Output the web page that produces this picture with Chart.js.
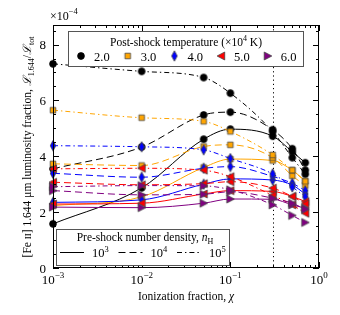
<!DOCTYPE html>
<html>
<head>
<meta charset="utf-8">
<script src="https://cdn.jsdelivr.net/npm/chart.js@4.4.0/dist/chart.umd.min.js"></script>
<style>
  html, body { margin: 0; padding: 0; background: #fff; }
  #wrap { width: 340px; height: 315px; }
</style>
</head>
<body>
<div id="wrap"><canvas id="chart" width="340" height="315"></canvas></div>
<script>
// Ionization fraction (x) shared by every series.
var ionFraction = [0.001, 0.01, 0.05, 0.1, 0.3, 0.5, 0.7];

// Luminosity fraction, units of 1e-4. tXX = post-shock T (x1e4 K), nY = log10 pre-shock density.
var t20_n3 = [1.58, 2.87, 4.61, 4.97, 4.72, 4.16, 3.77];
var t20_n4 = [3.55, 4.33, 5.48, 5.58, 4.95, 4.27, 3.50];
var t20_n5 = [7.31, 7.04, 6.82, 6.26, 4.88, 3.95, 3.36];

var t30_n3 = [2.23, 2.55, 3.60, 3.90, 3.85, 3.50, 3.12];
var t30_n4 = [3.73, 3.67, 4.35, 4.41, 3.95, 3.30, 2.95];
var t30_n5 = [5.65, 5.38, 5.25, 4.89, 4.05, 3.50, 3.10];

var t40_n3 = [2.35, 2.44, 3.00, 3.19, 3.15, 2.97, 2.65];
var t40_n4 = [3.39, 3.25, 3.57, 3.63, 3.28, 3.03, 2.77];
var t40_n5 = [4.38, 4.34, 4.23, 3.92, 3.37, 2.90, 2.55];

var t50_n3 = [2.29, 2.32, 2.65, 2.77, 2.74, 2.56, 2.38];
var t50_n4 = [3.07, 2.98, 3.02, 3.09, 2.86, 2.56, 2.30];
var t50_n5 = [3.55, 3.57, 3.50, 3.27, 2.60, 2.26, 1.96];

var t60_n3 = [2.18, 2.16, 2.32, 2.47, 2.46, 2.26, 2.14];
var t60_n4 = [2.77, 2.62, 2.64, 2.73, 2.50, 2.32, 2.10];
var t60_n5 = [2.91, 2.95, 2.94, 2.80, 2.26, 1.88, 1.63];

var temperatureLabels = ['2.0', '3.0', '4.0', '5.0', '6.0'];
var densityExponents = ['3', '4', '5'];
var xTickExponents = ['\u22123', '\u22122', '\u22121', '0'];
var xTickValues = [0.001, 0.01, 0.1, 1];
var yTickValues = [0, 2, 4, 6, 8];
var chiMark = 0.3;

var seriesByTemp = [
  [t20_n3, t20_n4, t20_n5],
  [t30_n3, t30_n4, t30_n5],
  [t40_n3, t40_n4, t40_n5],
  [t50_n3, t50_n4, t50_n5],
  [t60_n3, t60_n4, t60_n5]
];

// Styles.
var FONT = '"Liberation Serif", "DejaVu Serif", serif';
var tempColors = ['#000000', '#FFA500', '#0000FF', '#FF0000', '#800080'];
var markerKinds = ['circle', 'square', 'thinDiamond', 'triLeft', 'triRight'];
var densityDashes = [[], [7, 4], [5, 3, 1.4, 3]];

/**
 * @description Make a small canvas used as a point style.
 */
function makeMarker(kind, fill) {
  var c = document.createElement('canvas');
  c.width = 12;
  c.height = 12;
  var g = c.getContext('2d');
  g.fillStyle = fill;
  g.strokeStyle = fill === '#000000' ? '#000' : '#444';
  g.lineWidth = 0.8;
  g.beginPath();
  if (kind === 'circle') {
    g.arc(6, 6, 3.4, 0, Math.PI * 2);
  } else if (kind === 'square') {
    g.rect(3.2, 3.2, 5.6, 5.6);
  } else if (kind === 'thinDiamond') {
    g.moveTo(6, 0.8); g.lineTo(8.8, 6); g.lineTo(6, 11.2); g.lineTo(3.2, 6);
    g.closePath();
  } else if (kind === 'triLeft') {
    g.moveTo(2, 6); g.lineTo(9.6, 2); g.lineTo(9.6, 10);
    g.closePath();
  } else {
    g.moveTo(10, 6); g.lineTo(2.4, 2); g.lineTo(2.4, 10);
    g.closePath();
  }
  g.fill();
  g.stroke();
  return c;
}

var markers = markerKinds.map(function (k, i) { return makeMarker(k, tempColors[i]); });

var datasets = [];
seriesByTemp.forEach(function (group, t) {
  group.forEach(function (values, d) {
    datasets.push({
      label: temperatureLabels[t] + ' / 10^' + densityExponents[d],
      data: ionFraction.map(function (x, i) { return { x: x, y: values[i] }; }),
      borderColor: tempColors[t],
      backgroundColor: tempColors[t],
      borderWidth: 1,
      borderDash: densityDashes[d],
      pointStyle: markers[t],
      pointRadius: 4,
      cubicInterpolationMode: 'monotone',
      fill: false,
      clip: false,
      order: 100 - datasets.length
    });
  });
});

/**
 * @description Draw mixed-size text parts on one baseline.
 */
function drawRich(ctx, parts, x, y, align) {
  var total = 0;
  parts.forEach(function (p) {
    ctx.font = (p.italic ? 'italic ' : '') + p.size + 'px ' + FONT;
    p.w = ctx.measureText(p.text).width;
    total += p.w;
  });
  var cx = align === 'center' ? x - total / 2 : align === 'right' ? x - total : x;
  ctx.textAlign = 'left';
  ctx.textBaseline = 'alphabetic';
  parts.forEach(function (p) {
    ctx.font = (p.italic ? 'italic ' : '') + p.size + 'px ' + FONT;
    ctx.fillText(p.text, cx, y + (p.dy || 0));
    cx += p.w;
  });
}

var decorPlugin = {
  id: 'decor',
  beforeDatasetsDraw: function (chart) {
    var ctx = chart.ctx;
    var a = chart.chartArea;
    var x = Math.round(chart.scales.x.getPixelForValue(chiMark)) + 0.5;
    ctx.save();
    ctx.strokeStyle = '#000';
    ctx.lineWidth = 1;
    ctx.setLineDash([1.2, 3]);
    ctx.beginPath();
    ctx.moveTo(x, a.top);
    ctx.lineTo(x, a.bottom);
    ctx.stroke();
    ctx.restore();
  },
  afterDraw: function (chart) {
    var ctx = chart.ctx;
    var a = chart.chartArea;
    var xs = chart.scales.x;
    var ys = chart.scales.y;
    ctx.save();
    ctx.strokeStyle = '#000';
    ctx.fillStyle = '#000';
    ctx.lineWidth = 1;

    // Frame.
    ctx.strokeRect(a.left + 0.5, a.top + 0.5, a.right - a.left - 1, a.bottom - a.top - 1);

    // Inward ticks, x axis (log).
    ctx.beginPath();
    for (var e = -3; e <= 0; e++) {
      for (var k = 1; k <= 9; k++) {
        var v = k * Math.pow(10, e);
        if (v > 1.0000001) break;
        var px = Math.round(xs.getPixelForValue(v)) + 0.5;
        var len = k === 1 ? 6 : 3;
        ctx.moveTo(px, a.bottom); ctx.lineTo(px, a.bottom - len);
        ctx.moveTo(px, a.top); ctx.lineTo(px, a.top + len);
      }
    }
    // Inward ticks, y axis.
    for (var yv = 0; yv <= ys.max + 1e-9; yv += 0.5) {
      var py = Math.round(ys.getPixelForValue(yv)) + 0.5;
      var l2 = yv % 2 === 0 ? 6 : 3;
      ctx.moveTo(a.left, py); ctx.lineTo(a.left + l2, py);
      ctx.moveTo(a.right, py); ctx.lineTo(a.right - l2, py);
    }
    ctx.stroke();

    // Tick labels.
    xTickValues.forEach(function (v, i) {
      drawRich(ctx, [
        { text: '10', size: 13 },
        { text: xTickExponents[i], size: 9, dy: -6 }
      ], xs.getPixelForValue(v), 284, 'center');
    });
    yTickValues.forEach(function (v) {
      drawRich(ctx, [{ text: String(v), size: 13 }], a.left - 7, ys.getPixelForValue(v) + 4.5, 'right');
    });
    drawRich(ctx, [
      { text: '\u00d710', size: 12 },
      { text: '\u22124', size: 8.5, dy: -6 }
    ], 50, 20, 'left');

    // Axis titles.
    drawRich(ctx, [
      { text: 'Ionization fraction, ', size: 11.5 },
      { text: '\u03c7', size: 11.5, italic: true }
    ], 186, 300, 'center');

    ctx.save();
    ctx.translate(31, 147);
    ctx.rotate(-Math.PI / 2);
    drawRich(ctx, [
      { text: '[Fe ', size: 11.5 },
      { text: 'II', size: 9 },
      { text: '] 1.644 \u03bcm luminosity fraction, ', size: 11.5 },
      { text: '\u2112', size: 11.5, italic: true },
      { text: '1.644', size: 8, dy: 2.5 },
      { text: '/', size: 11.5 },
      { text: '\u2112', size: 11.5, italic: true },
      { text: 'tot', size: 8, dy: 2.5 }
    ], 0, 0, 'center');
    ctx.restore();

    // Temperature legend.
    ctx.fillStyle = '#fff';
    ctx.fillRect(68, 31, 235, 35);
    ctx.strokeStyle = '#555';
    ctx.strokeRect(68.5, 31.5, 235, 35);
    ctx.fillStyle = '#000';
    drawRich(ctx, [
      { text: 'Post-shock temperature (\u00d710', size: 11.5 },
      { text: '4', size: 8, dy: -5 },
      { text: ' K)', size: 11.5 }
    ], 186, 46, 'center');
    temperatureLabels.forEach(function (lab, i) {
      var mx = 81 + i * 46.7;
      var m = markers[i];
      ctx.drawImage(m, mx - m.width / 2, 56 - m.height / 2);
      drawRich(ctx, [{ text: lab, size: 12.5 }], mx + 13, 61, 'left');
    });

    // Density legend.
    ctx.fillStyle = '#fff';
    ctx.fillRect(56, 229, 173, 36);
    ctx.strokeStyle = '#555';
    ctx.strokeRect(56.5, 229.5, 173, 36);
    ctx.fillStyle = '#000';
    drawRich(ctx, [
      { text: 'Pre-shock number density, ', size: 11.5 },
      { text: 'n', size: 11.5, italic: true },
      { text: 'H', size: 8, dy: 2.5 }
    ], 145, 241, 'center');
    densityExponents.forEach(function (ex, i) {
      var lx = 60 + i * 58.5;
      ctx.strokeStyle = '#000';
      ctx.lineWidth = 1;
      ctx.setLineDash(densityDashes[i]);
      ctx.beginPath();
      ctx.moveTo(lx, 252.5);
      ctx.lineTo(lx + 24, 252.5);
      ctx.stroke();
      ctx.setLineDash([]);
      drawRich(ctx, [
        { text: '10', size: 12.5 },
        { text: ex, size: 8.5, dy: -5.5 }
      ], lx + 32, 257, 'left');
    });

    ctx.restore();
  }
};

new Chart(document.getElementById('chart'), {
  type: 'line',
  data: { datasets: datasets },
  options: {
    responsive: false,
    devicePixelRatio: 1,
    animation: false,
    layout: { padding: { left: 53, right: 21, top: 25, bottom: 47 } },
    scales: {
      x: { type: 'logarithmic', min: 0.001, max: 1, display: false },
      y: { type: 'linear', min: 0, max: 8.7, display: false }
    },
    plugins: {
      legend: { display: false },
      tooltip: { enabled: false }
    }
  },
  plugins: [decorPlugin]
});
</script>
</body>
</html>
